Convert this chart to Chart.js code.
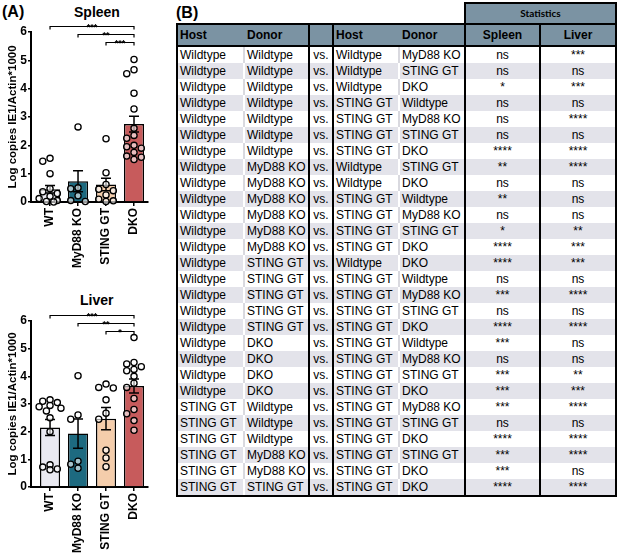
<!DOCTYPE html>
<html>
<head>
<meta charset="utf-8">
<script src="https://cdn.jsdelivr.net/npm/chart.js@4.4.0/dist/chart.umd.min.js"></script>
<style>
  body { margin: 0; background: #fff; width: 617px; height: 556px; position: relative; overflow: hidden;
         font-family: "Liberation Sans", Arial, sans-serif; color: #000; }
  .lbl { position: absolute; font-weight: bold; white-space: nowrap; }
  .cv { position: absolute; left: 0; }
  #tbl { position: absolute; left: 176px; top: 2px; width: 439px; border-collapse: collapse; table-layout: fixed;
         font-size: 12px; }
  #tbl td { padding: 0 0 0 2px; height: 16px; line-height: 16px; white-space: nowrap; overflow: hidden; }
  #tbl tr.g td { background: #e3e3ea; }
  #tbl td.c { text-align: center; padding: 0; }
  #tbl td.blk { border-left: 2px solid #000; }
  #tbl td.sep { border-left: 2px solid #d9d9df; }
  #tbl tr.g td.sep { border-left-color: #fff; }
  #tbl td.rt { border-right: 2px solid #000; }
  #tbl tr.hd td { background: #7b93a3; font-weight: bold; height: 20px; line-height: 20px;
                  border-top: 2px solid #000; border-bottom: 2px solid #000; }
  #tbl tr.hd td.sep { border-left-color: #7b93a3; }
  #tbl tr.last td { border-bottom: 2px solid #000; }
  #tbl td.stat { background: #7b93a3; border: 2px solid #000; text-align: center; font-family: Lato, sans-serif;
                 font-weight: bold; font-size: 10px; height: 19px; line-height: 19px; padding: 0; }
</style>
</head>
<body>
<div class="lbl" style="left:2px;top:3px;font-size:16px">(A)</div>
<div class="lbl" style="left:176px;top:4px;font-size:16px">(B)</div>
<div class="lbl" style="left:74px;top:4px;font-size:14px">Spleen</div>
<div class="lbl" style="left:80px;top:292px;font-size:14px">Liver</div>
<canvas id="spleen" class="cv" width="160" height="272" style="top:0"></canvas>
<canvas id="liver" class="cv" width="160" height="268" style="top:289px"></canvas>
<table id="tbl"></table>
<script>
'use strict'

const groups = ['WT', 'MyD88 KO', 'STING GT', 'DKO'];
const yTicks = [0, 1, 2, 3, 4, 5, 6];

// spleen
const spleenMean = [0.45, 0.73, 0.62, 2.75];
const spleenSem = [0.13, 0.37, 0.22, 0.28];
const spleenWT = [1.54, 1.44, 1.0, 0.47, 0.36, 0.3, 0.2, 0.12, 0.05, 0.02, 0.0];
const spleenMyD88 = [2.65, 0.5, 0.47, 0.22, 0.05, 0.02];
const spleenSTING = [2.23, 1.03, 0.62, 0.45, 0.4, 0.25, 0.1, 0.04, 0.02];
const spleenDKO = [5.03, 4.67, 4.53, 3.84, 3.28, 2.6, 2.35, 2.25, 2.0, 1.95, 1.9, 1.75, 1.62, 1.58, 1.5];
const spleenSig = ['***', '**', '***'];

// liver
const liverMean = [2.15, 1.93, 2.47, 3.65];
const liverSem = [0.29, 0.53, 0.4, 0.25];
const liverWT = [3.15, 3.1, 3.05, 2.95, 2.9, 2.85, 2.75, 2.5, 2.0, 0.8, 0.72, 0.65, 0.62];
const liverMyD88 = [4.02, 2.6, 2.45, 0.93, 0.82, 0.68];
const liverSTING = [3.72, 3.6, 3.58, 3.15, 2.67, 2.45, 1.33, 1.05, 0.73];
const liverDKO = [5.4, 4.5, 4.45, 4.35, 4.25, 4.2, 4.0, 3.75, 3.6, 3.2, 2.8, 2.65, 2.4, 2.05];
const liverSig = ['***', '**', '*'];

// table (B)
const tableHeader = ['Host', 'Donor', '', 'Host', 'Donor', 'Spleen', 'Liver'];
const comparisons = [
  ['Wildtype', 'Wildtype', 'Wildtype', 'MyD88 KO'],
  ['Wildtype', 'Wildtype', 'Wildtype', 'STING GT'],
  ['Wildtype', 'Wildtype', 'Wildtype', 'DKO'],
  ['Wildtype', 'Wildtype', 'STING GT', 'Wildtype'],
  ['Wildtype', 'Wildtype', 'STING GT', 'MyD88 KO'],
  ['Wildtype', 'Wildtype', 'STING GT', 'STING GT'],
  ['Wildtype', 'Wildtype', 'STING GT', 'DKO'],
  ['Wildtype', 'MyD88 KO', 'Wildtype', 'STING GT'],
  ['Wildtype', 'MyD88 KO', 'Wildtype', 'DKO'],
  ['Wildtype', 'MyD88 KO', 'STING GT', 'Wildtype'],
  ['Wildtype', 'MyD88 KO', 'STING GT', 'MyD88 KO'],
  ['Wildtype', 'MyD88 KO', 'STING GT', 'STING GT'],
  ['Wildtype', 'MyD88 KO', 'STING GT', 'DKO'],
  ['Wildtype', 'STING GT', 'Wildtype', 'DKO'],
  ['Wildtype', 'STING GT', 'STING GT', 'Wildtype'],
  ['Wildtype', 'STING GT', 'STING GT', 'MyD88 KO'],
  ['Wildtype', 'STING GT', 'STING GT', 'STING GT'],
  ['Wildtype', 'STING GT', 'STING GT', 'DKO'],
  ['Wildtype', 'DKO', 'STING GT', 'Wildtype'],
  ['Wildtype', 'DKO', 'STING GT', 'MyD88 KO'],
  ['Wildtype', 'DKO', 'STING GT', 'STING GT'],
  ['Wildtype', 'DKO', 'STING GT', 'DKO'],
  ['STING GT', 'Wildtype', 'STING GT', 'MyD88 KO'],
  ['STING GT', 'Wildtype', 'STING GT', 'STING GT'],
  ['STING GT', 'Wildtype', 'STING GT', 'DKO'],
  ['STING GT', 'MyD88 KO', 'STING GT', 'STING GT'],
  ['STING GT', 'MyD88 KO', 'STING GT', 'DKO'],
  ['STING GT', 'STING GT', 'STING GT', 'DKO']
];
const spleenStats = ['ns', 'ns', '*', 'ns', 'ns', 'ns', '****', '**', 'ns', '**', 'ns', '*', '****', '****',
  'ns', '***', 'ns', '****', '***', 'ns', '***', '***', '***', 'ns', '****', '***', '***', '****'];
const liverStats = ['***', 'ns', '***', 'ns', '****', 'ns', '****', '****', 'ns', 'ns', 'ns', '**', '***', '***',
  'ns', '****', 'ns', '****', 'ns', 'ns', '**', '***', '****', 'ns', '****', '****', 'ns', '****'];

const barColors = ['#e9e9f1', '#1d6a80', '#f4cdab', '#c75b5c'];

// simple beeswarm so the dots don't sit on top of each other
function swarm(values, center) {
  const placed = [];
  const offs = [0, -0.26, 0.26, -0.13, 0.13, -0.39, 0.39];
  [...values].sort((a, b) => b - a).forEach(v => {
    let best = 0, bestD = -1;
    for (const o of offs) {
      const d = Math.min(Infinity, ...placed.map(p => Math.hypot(p.x - o, p.y - v)));
      if (d >= 0.25) { best = o; break; }
      if (d > bestD) { bestD = d; best = o; }
    }
    placed.push({ x: best, y: v });
  });
  return placed.map(p => ({ x: center + p.x, y: p.y }));
}

const errorBars = {
  id: 'errorBars',
  afterDatasetDraw(chart, args, opts) {
    if (args.meta.type !== 'bar') return;
    const ctx = chart.ctx, y = chart.scales.y;
    args.meta.data.forEach((bar, i) => {
      const top = y.getPixelForValue(opts.means[i] + opts.sems[i]);
      const bot = y.getPixelForValue(opts.means[i] - opts.sems[i]);
      ctx.save();
      ctx.strokeStyle = '#000';
      ctx.lineWidth = 1.5;
      ctx.beginPath();
      ctx.moveTo(bar.x, top); ctx.lineTo(bar.x, bot);
      ctx.moveTo(bar.x - 5, top); ctx.lineTo(bar.x + 5, top);
      ctx.moveTo(bar.x - 5, bot); ctx.lineTo(bar.x + 5, bot);
      ctx.stroke();
      ctx.restore();
    });
  }
};

// comparison brackets, each group vs DKO
const brackets = {
  id: 'brackets',
  afterDraw(chart, args, opts) {
    const ctx = chart.ctx, x = chart.scales.x, y = chart.scales.y;
    const levels = [6.2, 5.92, 5.64];
    opts.labels.forEach((lab, i) => {
      const x1 = x.getPixelForValue(i), x2 = x.getPixelForValue(3);
      const py = Math.round(y.getPixelForValue(levels[i])) + 0.5;
      ctx.save();
      ctx.strokeStyle = '#000';
      ctx.lineWidth = 1.2;
      ctx.beginPath();
      ctx.moveTo(x1, py + 3); ctx.lineTo(x1, py); ctx.lineTo(x2, py); ctx.lineTo(x2, py + 3);
      ctx.stroke();
      ctx.fillStyle = '#000';
      ctx.font = 'bold 9px "Liberation Sans"';
      ctx.textAlign = 'center';
      ctx.textBaseline = 'alphabetic';
      ctx.fillText(lab, (x1 + x2) / 2, py + 3);
      ctx.restore();
    });
  }
};

function makeChart(id, means, sems, series, sig) {
  const pts = [];
  series.forEach((vals, i) => pts.push(...swarm(vals, i)));
  return new Chart(document.getElementById(id), {
    type: 'bar',
    data: {
      datasets: [{
        type: 'scatter',
        data: pts,
        pointRadius: 3.1,
        pointBackgroundColor: 'rgba(255,255,255,0.6)',
        pointBorderColor: '#000',
        pointBorderWidth: 1.3,
        clip: false,
        order: 0
      }, {
        type: 'bar',
        data: means.map((m, i) => ({ x: i, y: m })),
        backgroundColor: barColors,
        borderColor: '#000',
        borderWidth: 1.5,
        barPercentage: 0.72,
        categoryPercentage: 1,
        order: 1
      }]
    },
    options: {
      responsive: false,
      animation: false,
      layout: { padding: { top: 32, right: 12 } },
      plugins: {
        legend: { display: false },
        tooltip: { enabled: false },
        errorBars: { means: means, sems: sems },
        brackets: { labels: sig }
      },
      scales: {
        x: {
          type: 'linear',
          min: -0.68,
          max: 3.5,
          offset: false,
          afterBuildTicks: s => { s.ticks = groups.map((g, i) => ({ value: i })); },
          afterFit: s => { s.height = 70; },
          ticks: {
            callback: v => groups[Math.round(v)],
            autoSkip: false, minRotation: 90, maxRotation: 90,
            color: '#000', padding: 2,
            font: { family: 'Liberation Sans', size: 12, weight: 'bold' }
          },
          grid: { offset: false, drawOnChartArea: false, tickLength: 4, color: '#000', lineWidth: 1.5 },
          border: { color: '#000', width: 2 }
        },
        y: {
          min: 0,
          max: 6,
          afterBuildTicks: s => { s.ticks = yTicks.map(v => ({ value: v })); },
          afterFit: s => { s.width = 31; },
          ticks: { color: '#000', padding: 1, font: { family: 'Liberation Sans', size: 12, weight: 'bold' } },
          grid: { drawOnChartArea: false, tickLength: 3, color: '#000', lineWidth: 1.5 },
          border: { color: '#000', width: 2 },
          title: {
            display: true, text: 'Log copies IE1/Actin*1000', color: '#000',
            padding: { top: 6, bottom: 0 },
            font: { family: 'Liberation Sans', size: 11.5, weight: 'bold' }
          }
        }
      }
    },
    plugins: [errorBars, brackets]
  });
}

makeChart('spleen', spleenMean, spleenSem, [spleenWT, spleenMyD88, spleenSTING, spleenDKO], spleenSig);
makeChart('liver', liverMean, liverSem, [liverWT, liverMyD88, liverSTING, liverDKO], liverSig);

// table
const tbl = document.getElementById('tbl');
const colW = [67, 65, 24, 66, 66, 75, 76];
let html = '<colgroup>' + colW.map(w => '<col style="width:' + w + 'px">').join('') + '</colgroup>';
html += '<tr><td colspan="5" style="height:19px"></td><td colspan="2" class="stat">Statistics</td></tr>';
const cls = ['blk', 'sep', 'blk c', 'blk', 'sep', 'blk c', 'blk c rt'];
html += '<tr class="hd">' + tableHeader.map((h, j) => '<td class="' + cls[j] + '">' + h + '</td>').join('') + '</tr>';
comparisons.forEach((r, i) => {
  const cells = [r[0], r[1], 'vs.', r[2], r[3], spleenStats[i], liverStats[i]];
  const rc = (i % 2 ? 'g' : '') + (i === comparisons.length - 1 ? ' last' : '');
  html += '<tr class="' + rc + '">' + cells.map((c, j) => '<td class="' + cls[j] + '">' + c + '</td>').join('') + '</tr>';
});
tbl.innerHTML = html;
</script>
</body>
</html>
